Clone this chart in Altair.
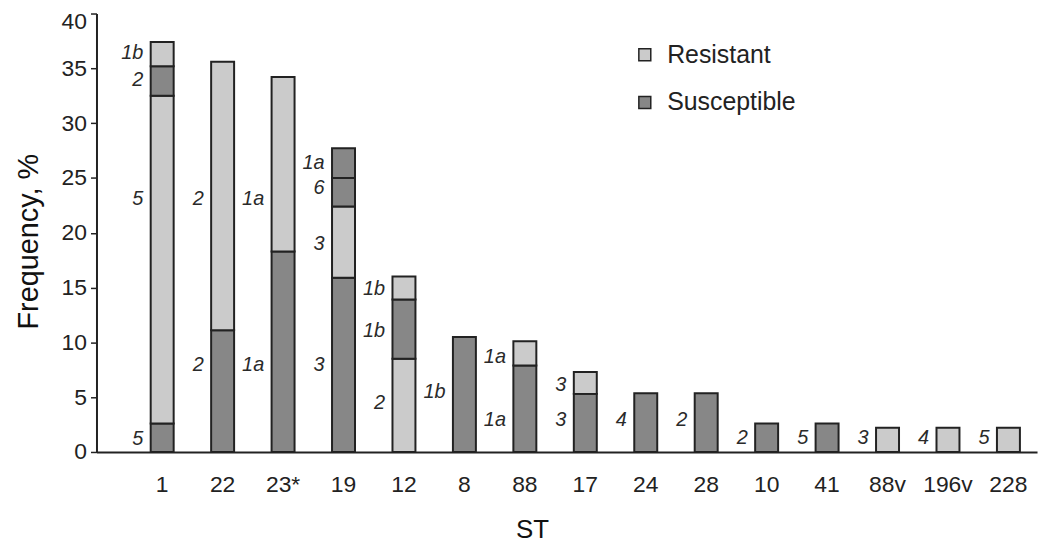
import altair as alt
import pandas as pd

categories = ["1", "22", "23*", "19", "12", "8", "88", "17", "24", "28", "10", "41", "88v", "196v", "228"]

# stacked segments of each ST, listed bottom to top
seg_status = [
    ["Susceptible", "Resistant", "Susceptible", "Resistant"],
    ["Susceptible", "Resistant"],
    ["Susceptible", "Resistant"],
    ["Susceptible", "Resistant", "Susceptible", "Susceptible"],
    ["Resistant", "Susceptible", "Resistant"],
    ["Susceptible"],
    ["Susceptible", "Resistant"],
    ["Susceptible", "Resistant"],
    ["Susceptible"],
    ["Susceptible"],
    ["Susceptible"],
    ["Susceptible"],
    ["Resistant"],
    ["Resistant"],
    ["Resistant"],
]
seg_values = [
    [2.6, 29.9, 2.7, 2.2],
    [11.1, 24.5],
    [18.3, 15.9],
    [15.9, 6.5, 2.6, 2.7],
    [8.5, 5.4, 2.1],
    [10.5],
    [7.9, 2.2],
    [5.3, 2.0],
    [5.35],
    [5.35],
    [2.6],
    [2.6],
    [2.2],
    [2.2],
    [2.2],
]
seg_labels = [
    ["5", "5", "2", "1b"],
    ["2", "2"],
    ["1a", "1a"],
    ["3", "3", "6", "1a"],
    ["2", "1b", "1b"],
    ["1b"],
    ["1a", "1a"],
    ["3", "3"],
    ["4"],
    ["2"],
    ["2"],
    ["5"],
    ["3"],
    ["4"],
    ["5"],
]
# height (in %) at which each segment label is written
label_y = [
    [1.2, 23.1, 33.9, 36.4],
    [7.9, 23.1],
    [7.9, 23.1],
    [7.9, 19.0, 24.1, 26.4],
    [4.5, 11.0, 14.9],
    [5.5],
    [2.9, 8.7],
    [2.9, 6.1],
    [2.9],
    [2.9],
    [1.25],
    [1.25],
    [1.25],
    [1.25],
    [1.25],
]

bar_rows = []
lab_rows = []
for st, stats, vals, labs, lys in zip(categories, seg_status, seg_values, seg_labels, label_y):
    base = 0.0
    for k, (s, v) in enumerate(zip(stats, vals)):
        bar_rows.append({"st": st, "status": s, "y0": base, "y1": base + v, "k": k})
        base += v
    for lab, ly in zip(labs, lys):
        lab_rows.append({"st": st, "lab": lab, "ly": ly})

bars_df = pd.DataFrame(bar_rows)
labs_df = pd.DataFrame(lab_rows)

FONT = "Liberation Sans"

xscale = alt.Scale(domain=categories, paddingInner=0.62, paddingOuter=0.59, align=0.76)
yscale = alt.Scale(domain=[0, 40], nice=False)

x_axis = alt.Axis(
    ticks=False, domainColor="#222222", domainWidth=2, labelAngle=0,
    labelFont=FONT, labelFontSize=23, labelColor="#222222", labelPadding=22,
    title="ST", titleFont=FONT, titleFontSize=26, titleFontWeight="normal",
    titleColor="#111111", titlePadding=20, titleX=438, titleAlign="center",
)
y_axis = alt.Axis(
    values=list(range(0, 41, 5)), grid=False, domainColor="#222222", domainWidth=2,
    tickColor="#222222", tickWidth=1.5, tickSize=6,
    labelFont=FONT, labelFontSize=23, labelColor="#222222", labelPadding=4,
    labelOffset=alt.condition("datum.value == 40", alt.value(8), alt.value(0)),
    title="Frequency, %", titleFont=FONT, titleFontSize=29, titleFontWeight="normal",
    titleColor="#111111", titlePadding=18, titleY=229,
)

bars = alt.Chart(bars_df).mark_bar(stroke="#222222", strokeWidth=2).encode(
    x=alt.X("st:N", scale=xscale, sort=categories, axis=x_axis),
    y=alt.Y("y0:Q", scale=yscale, axis=y_axis),
    y2="y1:Q",
    color=alt.Color(
        "status:N",
        scale=alt.Scale(domain=["Resistant", "Susceptible"], range=["#cbcbcb", "#878787"]),
        legend=alt.Legend(
            title=None, orient="none", legendX=539, legendY=29, padding=0,
            symbolType="square", symbolSize=144, symbolStrokeColor="#222222",
            symbolStrokeWidth=1.5, labelFont=FONT, labelFontSize=25,
            labelColor="#222222", labelOffset=10, rowPadding=22,
        ),
    ),
)

texts = alt.Chart(labs_df).mark_text(
    align="right", baseline="middle", dx=-19, font=FONT, fontSize=20,
    fontStyle="italic", color="#2a2a2a",
).encode(
    x=alt.X("st:N", scale=xscale, sort=categories, axis=x_axis),
    y=alt.Y("ly:Q", scale=yscale, axis=y_axis),
    text="lab:N",
)

chart = alt.layer(bars, texts).properties(
    width=946, height=441,
    padding={"left": 89, "top": 4, "right": 5, "bottom": 90},
    autosize=alt.AutoSizeParams(type="none"),
).configure_view(stroke=None)

chart.save("out.html", embed_options={"renderer": "svg", "actions": False})
